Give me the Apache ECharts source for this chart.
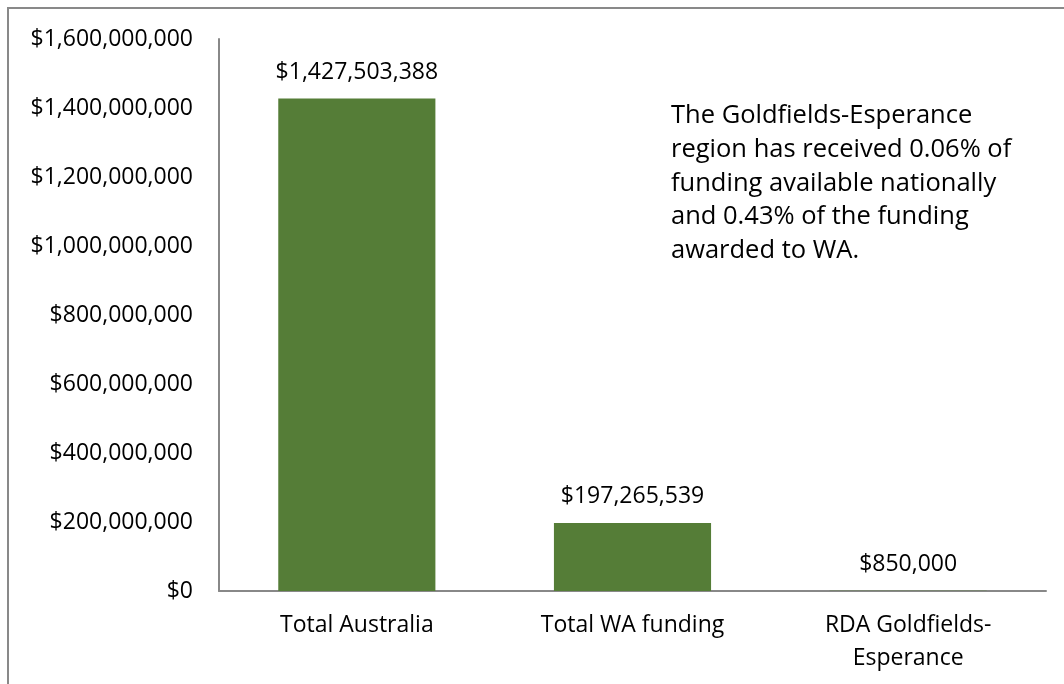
<!DOCTYPE html>
<html>
<head>
<meta charset="utf-8">
<script src="https://cdn.jsdelivr.net/npm/echarts@6/dist/echarts.min.js"></script>
<style>
html,body{margin:0;padding:0;background:#fff;}
#chart{width:1064px;height:684px;}
</style>
</head>
<body>
<div id="chart"></div>
<script>
const categories = ['Total Australia', 'Total WA funding', 'RDA Goldfields-\nEsperance'];
const funding = [1427503388, 197265539, 850000];
const yTicks = { min: 0, max: 1600000000, interval: 200000000 };
const noteLines = [
  'The Goldfields-Esperance',
  'region has received 0.06% of',
  'funding available nationally',
  'and 0.43% of the funding',
  'awarded to WA.'
];

const FONT = '"Open Sans", sans-serif';
const money = v => '$' + Number(v).toLocaleString('en-US');

const chart = echarts.init(document.getElementById('chart'));
chart.setOption({
  animation: false,
  backgroundColor: '#ffffff',
  textStyle: { fontFamily: FONT },
  grid: { left: 219, right: 18, top: 39, bottom: 93, containLabel: false },
  xAxis: {
    type: 'category',
    data: categories,
    axisLine: { lineStyle: { color: '#888888', width: 2 } },
    axisTick: { show: false },
    axisLabel: { color: '#000', fontSize: 23, fontFamily: FONT, lineHeight: 33, margin: 18, interval: 0 }
  },
  yAxis: {
    type: 'value',
    min: yTicks.min, max: yTicks.max, interval: yTicks.interval,
    axisLine: { show: true, lineStyle: { color: '#888888', width: 2 } },
    axisTick: { show: false },
    splitLine: { show: false },
    axisLabel: { color: '#000', fontSize: 23, fontFamily: FONT, margin: 26, formatter: money }
  },
  series: [{
    type: 'bar',
    data: funding,
    barCategoryGap: '43%',
    itemStyle: { color: '#557D37' },
    label: {
      show: true, position: 'top', distance: 11,
      color: '#000', fontSize: 23, fontFamily: FONT, lineHeight: 30,
      formatter: p => money(p.value)
    }
  }],
  graphic: [
    {
      type: 'rect', silent: true,
      shape: { x: 8, y: 8, width: 1200, height: 800 },
      style: { fill: 'none', stroke: '#898989', lineWidth: 2 }
    },
    {
      type: 'text', left: 671, top: 99, silent: true,
      style: {
        text: noteLines.join('\n'), fill: '#000',
        font: '25.5px ' + FONT, lineHeight: 33.7
      }
    }
  ]
});
</script>
</body>
</html>
